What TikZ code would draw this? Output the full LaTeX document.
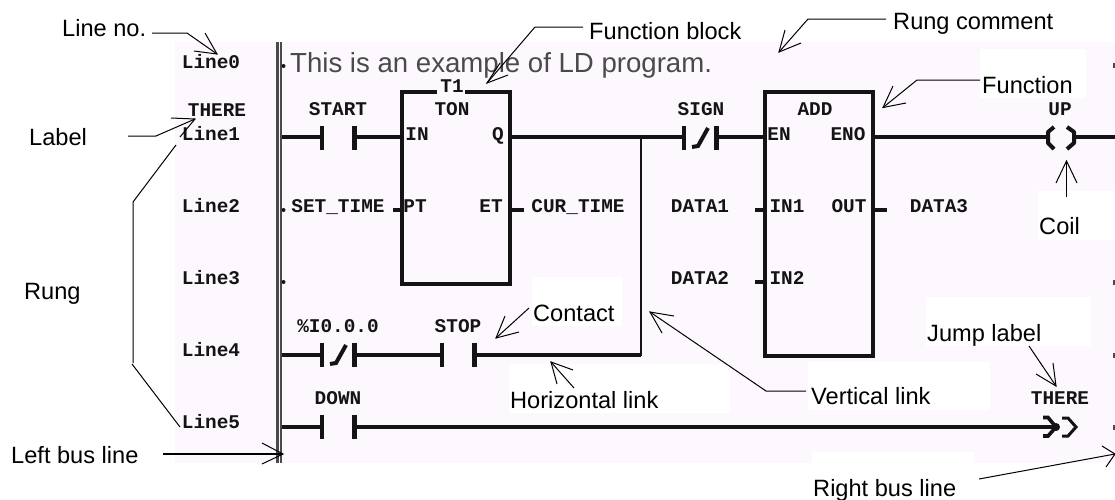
\documentclass[tikz,border=0pt]{standalone}
\usepackage{fontspec}
\setmainfont{Liberation Sans}
\newfontfamily\ldmono{Liberation Mono}[BoldFont=* Bold]
\definecolor{ldpink}{HTML}{FDF7FE}
\definecolor{ldink}{HTML}{141414}
\definecolor{ldgray}{HTML}{4A4A4A}
\tikzset{
  callout/.style={anchor=base west,inner sep=0pt,font=\fontsize{23.6}{24}\selectfont,text=black},
  comment/.style={anchor=base west,inner sep=0pt,font=\fontsize{27.6}{28}\selectfont,text=ldgray},
  ldtext/.style={inner sep=0pt,text height=11pt,text depth=0pt,font=\ldmono\bfseries\fontsize{19.4}{19}\selectfont,text=ldink},
  wire/.style={draw=ldink,line width=4pt},
  plate/.style={draw=ldink,line width=4.4pt},
  vlink/.style={draw=ldink,line width=2.4pt},
  fbox/.style={draw=ldink,line width=4.4pt,inner sep=0pt,anchor=north west},
  leader/.style={draw=black,line width=1pt,line join=miter},
  blank/.style={fill=white,draw=none},
  busline/.style={draw=ldgray,line width=2.6pt},
  tick/.style={fill=ldink,draw=none,circle,inner sep=0pt,minimum size=4pt},
}
% contact: name, x, y (normally open)
\newcommand{\ldcontact}[3]{%
  \coordinate (#1L) at (#2,#3);
  \coordinate (#1R) at (#2+32.5,#3);
  \draw[plate] (#2,#3-12) -- (#2,#3+12);
  \draw[plate] (#2+32.5,#3-12) -- (#2+32.5,#3+12);
}
\newcommand{\ldnc}[3]{%
  \ldcontact{#1}{#2}{#3}
  \draw[draw=ldink,line width=4pt] (#2+8,#3+9) -- (#2+14,#3+8) -- (#2+24,#3-10);
}
\begin{document}
\begin{tikzpicture}[x=1pt,y=-1pt]
\useasboundingbox (0,0) rectangle (1115,499);
% background and the white patches behind the callouts
\fill[ldpink] (175,42) rectangle (1115,463);
\fill[blank] (980,49) rectangle (1086,98);
\fill[blank] (1038,191) rectangle (1115,240);
\fill[blank] (532,277) rectangle (622,326);
\fill[blank] (509,364) rectangle (730,413);
\fill[blank] (808,362) rectangle (990,410);
\fill[blank] (926,297) rectangle (1091,346);
\fill[blank] (812,452) rectangle (974,499);

% left bus
\coordinate (busA) at (277.2,42); \coordinate (busAb) at (277.2,463);
\coordinate (busB) at (281,42);   \coordinate (busBb) at (281,463);
\draw[busline] (busA) -- (busAb);
\draw[busline] (busB) -- (busBb);
\coordinate (bus1) at (282,137);
\coordinate (bus4) at (282,354.5);
\coordinate (bus5) at (282,427);
\node[tick] (d0) at (283.5,66) {};
\node[tick] (d2) at (283.5,210) {};
\node[tick] (d3) at (283.5,282) {};
\foreach \n/\yy in {r0/65,r3/282,r4/355,r5/427}{\node[fill=ldgray,draw=none,inner sep=0pt,minimum width=2pt,minimum height=5pt] (\n) at (1114,\yy) {};}

% line numbers
\node[ldtext] (l0) at (211,62.5) {Line0};
\node[ldtext] (l1) at (211,135) {Line1};
\node[ldtext] (l2) at (211,207) {Line2};
\node[ldtext] (l3) at (211,279) {Line3};
\node[ldtext] (l4) at (211,351) {Line4};
\node[ldtext] (l5) at (211,423) {Line5};
\node[ldtext] (there) at (217,111) {THERE};

\node[comment] (cmt) at (290,72) {This is an example of LD program.};

% function blocks
\node[fbox,minimum width=108pt,minimum height=192.5pt] (ton) at (400,89.5) {};
\node[fbox,minimum width=108pt,minimum height=264.5pt] (add) at (763,89.5) {};
\fill[ldpink] (437,85) rectangle (465,95);
\node[ldtext] (t1) at (452,87) {T1};
\node[ldtext] (tonn) at (452,110) {TON};
\node[ldtext] (pin) at (417,135) {IN};
\node[ldtext] (pq) at (498,135) {Q};
\node[ldtext] (ppt) at (415,207) {PT};
\node[ldtext] (pet) at (491,207) {ET};
\node[ldtext] (addn) at (815,110) {ADD};
\node[ldtext] (pen) at (779,135) {EN};
\node[ldtext] (peno) at (848,135) {ENO};
\node[ldtext] (pi1) at (787,207) {IN1};
\node[ldtext] (pout) at (849,207) {OUT};
\node[ldtext] (pi2) at (787,279) {IN2};

% operands
\node[ldtext] (start) at (338,110) {START};
\node[ldtext] (sign) at (701,110) {SIGN};
\node[ldtext] (up) at (1060,110) {UP};
\node[ldtext] (settime) at (338,207) {SET\_TIME};
\node[ldtext] (curtime) at (578,207) {CUR\_TIME};
\node[ldtext] (data1) at (700,207) {DATA1};
\node[ldtext] (data2) at (700,279) {DATA2};
\node[ldtext] (data3) at (939,207) {DATA3};
\node[ldtext] (i0) at (338,327) {\%I0.0.0};
\node[ldtext] (stop) at (458,327) {STOP};
\node[ldtext] (down) at (338,399) {DOWN};
\node[ldtext] (jthere) at (1060,399) {THERE};

% contacts
\ldcontact{cStart}{322}{138}
\ldnc{cSign}{684}{138}
\ldnc{cI}{322}{355}
\ldcontact{cStop}{442}{355}
\ldcontact{cDown}{322}{427}

% wires
\coordinate (tonIn) at (ton.west |- bus1);
\coordinate (tonQ) at (ton.east |- bus1);
\coordinate (addEn) at (add.west |- bus1);
\coordinate (addEno) at (add.east |- bus1);
\coordinate (vtop) at (641,137);
\coordinate (vbot) at (641,356);
\coordinate (coilL) at (1046,137);
\coordinate (coilR) at (1076,137);
\coordinate (rbus) at (1115,137);
\coordinate (jump) at (1054,427);
\draw[wire] (bus1) -- (cStartL|-bus1);
\draw[wire] (cStartR|-bus1) -- (tonIn);
\draw[wire] (tonQ) -- (cSignL|-bus1);
\draw[wire] (cSignR|-bus1) -- (addEn);
\draw[wire] (addEno) -- (coilL);
\draw[wire] (coilR) -- (rbus);
\draw[wire] (bus4) -- (cIL|-bus4);
\draw[wire] (cIR|-bus4) -- (cStopL|-bus4);
\draw[wire] (cStopR|-bus4) -- (vbot|-bus4);
\draw[wire] (bus5) -- (cDownL);
\draw[wire] (cDownR) -- (jump);
\draw[vlink] (vtop) -- (vbot);
% pin stubs
\coordinate (stubPT) at (393,210); \coordinate (stubET) at (524,210);
\coordinate (stubI1) at (755,210); \coordinate (stubI2) at (755,282);
\coordinate (stubOUT) at (887,210);
\draw[wire] (stubPT) -- (ton.west |- stubPT);
\draw[wire] (ton.east |- stubET) -- (stubET);
\draw[wire] (stubI1) -- (add.west |- stubI1);
\draw[wire] (stubI2) -- (add.west |- stubI2);
\draw[wire] (add.east |- stubOUT) -- (stubOUT);
% coil
\draw[draw=ldink,line width=4pt,line join=round] (1054,127) -- (1048,132) -- (1048,143) -- (1054,149);
\draw[draw=ldink,line width=4pt,line join=round] (1067,127) -- (1074,132) -- (1074,143) -- (1067,149);
% jump symbol
\draw[draw=ldink,line width=3.6pt,line join=miter] (1043,417.5) -- (1048,417.5) -- (1056,427) -- (1048,436) -- (1043,436);
\fill[ldink] (1056,427) circle (4);
\draw[draw=ldink,line width=3pt,line join=miter] (1062,418) -- (1068,418) -- (1076,427) -- (1068,436) -- (1062,436);

% callouts
\node[callout] (tLine) at (62,36) {Line no.};
\node[callout] (tLabel) at (29,145) {Label};
\node[callout] (tRung) at (24,299) {Rung};
\node[callout] (tLeft) at (11,463) {Left bus line};
\node[callout] (tFB) at (589,39) {Function block};
\node[callout] (tRC) at (893,29.5) {Rung comment};
\node[callout] (tFn) at (982,93) {Function};
\node[callout] (tCoil) at (1039,234) {Coil};
\node[callout] (tContact) at (533,321) {Contact};
\node[callout] (tH) at (510,408) {Horizontal link};
\node[callout] (tV) at (811,404) {Vertical link};
\node[callout] (tJ) at (927,341) {Jump label};
\node[callout] (tR) at (813,496) {Right bus line};

% leaders
\coordinate (a1) at (152,33); \coordinate (a2) at (187,33); \coordinate (a3) at (217,54);
\draw[leader] (a1) -- (a2) -- (a3);
\draw[leader] (205,33) -- (a3) -- (194,51);
\coordinate (b1) at (128,136); \coordinate (b2) at (156,136); \coordinate (b3) at (195,119);
\draw[leader] (b1) -- (b2) -- (b3);
\draw[leader] (171,118) -- (b3) -- (180,137);
\coordinate (c1) at (176,145); \coordinate (c2) at (133,202); \coordinate (c3) at (133,363);
\coordinate (c4) at (132,364); \coordinate (c5) at (180,427);
\draw[leader] (c1) -- (c2) -- (c3);
\draw[leader] (c4) -- (c5);
\coordinate (d1) at (163,454); \coordinate (d4) at (283,454);
\draw[leader,line width=1.3pt] (d1) -- (d4);
\draw[leader] (262,443) -- (d4) -- (262,464);
\coordinate (e1) at (583,27); \coordinate (e2) at (535,27); \coordinate (e3) at (487,83);
\draw[leader] (e1) -- (e2) -- (e3);
\draw[leader] (500,63) -- (e3) -- (508,75);
\coordinate (f1) at (886,19); \coordinate (f2) at (808,19); \coordinate (f3) at (779,52);
\draw[leader] (f1) -- (f2) -- (f3);
\draw[leader] (785,30) -- (f3) -- (801,43);
\coordinate (g1) at (980,80); \coordinate (g2) at (917,80); \coordinate (g3) at (883,107.5);
\draw[leader] (g1) -- (g2) -- (g3);
\draw[leader] (893,86) -- (g3) -- (906,103);
\coordinate (h1) at (1066.5,197); \coordinate (h3) at (1066.5,161);
\draw[leader] (h1) -- (h3);
\draw[leader] (1056,183) -- (h3) -- (1077,183);
\coordinate (i1) at (529,308); \coordinate (i3) at (496,338);
\draw[leader] (i1) -- (i3);
\draw[leader] (505,316) -- (i3) -- (519,332);
\coordinate (j1) at (574,388); \coordinate (j3) at (551,362);
\draw[leader] (j1) -- (j3);
\draw[leader] (573,370) -- (j3) -- (557,384);
\coordinate (k1) at (806,391); \coordinate (k2) at (766,391); \coordinate (k3) at (650,312);
\draw[leader] (k1) -- (k2) -- (k3);
\draw[leader] (674,316) -- (k3) -- (662,333);
\coordinate (m1) at (1029,346); \coordinate (m3) at (1056,386);
\draw[leader] (m1) -- (m3);
\draw[leader] (1053,363) -- (m3) -- (1036,374);
\coordinate (n1) at (979,479); \coordinate (n3) at (1115,454);
\draw[leader] (n1) -- (n3);
\draw[leader] (1102,446) -- (n3) -- (1106,467);
\end{tikzpicture}
\end{document}
